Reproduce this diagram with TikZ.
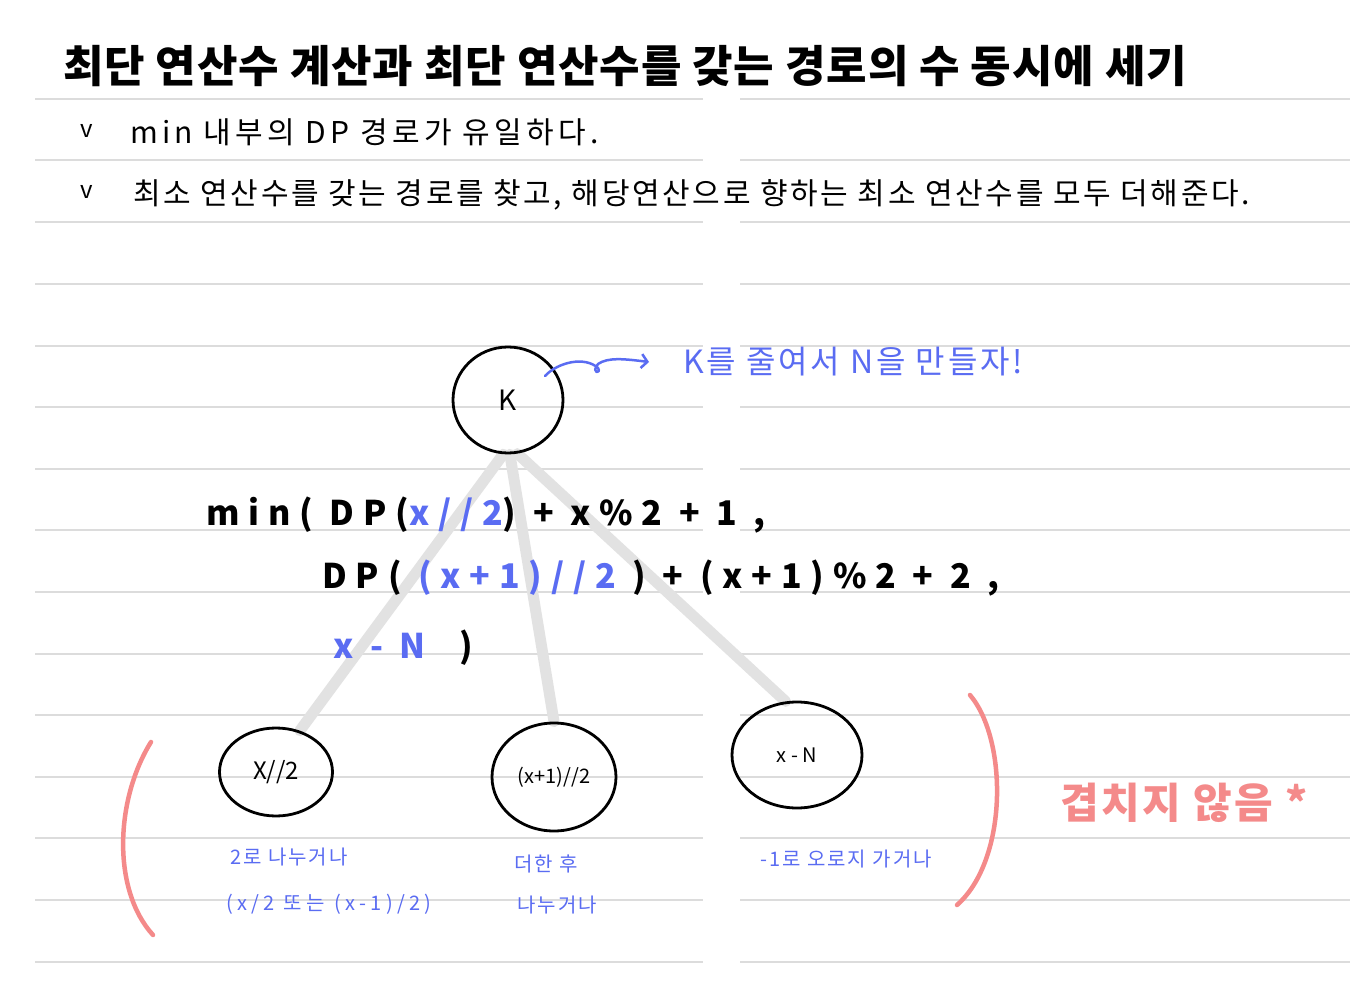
\documentclass[tikz,border=0pt]{standalone}
\usepackage{fontspec}
\setmainfont{Noto Sans CJK KR}
\usetikzlibrary{shapes.geometric,arrows.meta}
\definecolor{pen}{HTML}{5A6CF2}
\definecolor{hlred}{HTML}{F48A8A}
\definecolor{rulegray}{HTML}{DCDCDC}
\definecolor{edgegray}{HTML}{E2E2E2}
\newcommand\fsz[1]{\fontsize{#1}{#1}\selectfont}
\newcommand\lsp[1]{\addfontfeatures{LetterSpace=#1}}
\pgfdeclarelayer{paper}
\pgfdeclarelayer{bg}
\pgfsetlayers{paper,bg,main}
\begin{document}
\begin{tikzpicture}[x=1pt,y=-1pt,
  txt/.style={inner sep=0pt, anchor=west},
  circ/.style={draw, ellipse, line width=2.8pt, inner sep=0pt},
  conn/.style={draw=edgegray, line width=11pt, line cap=round},
  ruleline/.style={draw=rulegray, line width=1.2pt},
  paren/.style={draw=hlred, line width=4.5pt, line cap=round},
  formula/.style={txt, font=\fsz{34}\bfseries\lsp{26}},
  bluenote/.style={txt, text=pen, font=\fsz{20}\lsp{10}},
]
\useasboundingbox (0,0) rectangle (1350,1000);
\begin{pgfonlayer}{paper}
  \fill[white] (0,0) rectangle (1350,1000);
  \foreach \y in {99,160,222,284,346,407,469,530,592,654,715,777,838,900,962} {
    \draw[ruleline] (35,\y) -- (703,\y);
    \draw[ruleline] (740,\y) -- (1350,\y);
  }
\end{pgfonlayer}

% title and notes
\node[txt, font=\fsz{44}\bfseries\lsp{2}] (title) at (63,66) {최단 연산수 계산과 최단 연산수를 갖는 경로의 수 동시에 세기};
\node[txt, font=\fsz{24}] (v1) at (80,131) {v};
\node[txt, font=\fsz{30}\lsp{14}] (n1) at (130,132) {min 내부의 DP 경로가 유일하다.};
\node[txt, font=\fsz{24}] (v2) at (80,192) {v};
\node[txt, font=\fsz{30}\lsp{9}] (n2) at (133,195) {최소 연산수를 갖는 경로를 찾고, 해당연산으로 향하는 최소 연산수를 모두 더해준다.};

% tree nodes
\node[circ, minimum width=110, minimum height=106] (K) at (508,400) {\fsz{28}K};
\node[circ, minimum width=113, minimum height=88] (xh) at (276,772) {\fsz{24}X//2};
\node[circ, minimum width=124, minimum height=108] (xp) at (554,777) {\fsz{20}(x+1)//2};
\node[circ, minimum width=130, minimum height=106] (xn) at (797,755) {\fsz{20}x - N};

\begin{pgfonlayer}{bg}
  \draw[conn] (K.-95) -- (xh.60);
  \draw[conn] (K.-88) -- (xp.90);
  \draw[conn] (K.-80) -- (xn.102);
\end{pgfonlayer}

% annotation
\node[txt, text=pen, font=\fsz{32}\lsp{9}] (ann) at (683,362) {K를 줄여서 N을 만들자!};
\coordinate (aS) at (545,376);
\draw[pen, line width=2.5pt, line cap=round, line join=round, -{Straight Barb[length=6pt,width=14pt]}]
  (aS) .. controls (558,362) and (585,356) .. (598,368)
  .. controls (602,374) and (590,374) .. (598,364)
  .. controls (608,357) and (625,359) .. ([xshift=-34pt]ann.west);

% formula
\node[formula] (f1) at (206,515) {min( DP(\textcolor{pen}{x//2}) + x\%2 + 1 ,};
\node[formula] (f2) at (322,578) {DP( \textcolor{pen}{(x+1)//2} ) + (x+1)\%2 + 2 ,};
\node[formula] (f3) at (333,648) {\textcolor{pen}{x - N} \ )};

% notes under the nodes
\node[bluenote] (l1a) at (230,857) {2로 나누거나};
\node[bluenote, font=\fsz{20}\lsp{22}] (l1b) at (226,904) {(x/2 또는 (x-1)/2)};
\node[bluenote] (l2a) at (514,864) {더한 후};
\node[bluenote] (l2b) at (517,905) {나누거나};
\node[bluenote] (l3) at (760,859) {-1로 오로지 가거나};

% red brackets and note
\draw[paren] (151,742) .. controls (115,800) and (112,890) .. (153,935);
\draw[paren] (970,695) .. controls (1008,740) and (1008,860) .. (957,905);
\node[txt, text=hlred, font=\fsz{42}\bfseries\lsp{6}] (red) at (1060,803) {겹치지 않음 *};
\end{tikzpicture}
\end{document}
